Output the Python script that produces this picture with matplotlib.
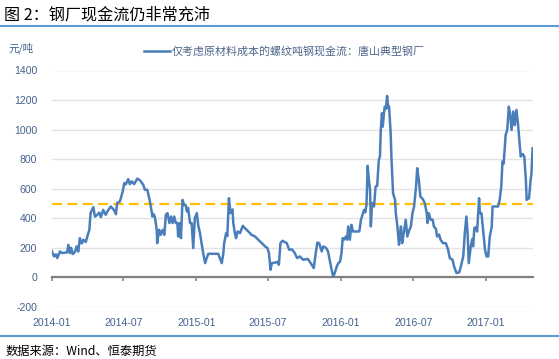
import matplotlib
matplotlib.use("Agg")
import matplotlib.pyplot as plt
import matplotlib.dates as mdates
from matplotlib.lines import Line2D
import datetime as dt

plt.rcParams['font.family'] = ['Liberation Sans', 'Noto Sans CJK SC', 'DejaVu Sans']

title = "图 2：钢厂现金流仍非常充沛"
unit_label = "元/吨"
series_name = "仅考虑原材料成本的螺纹吨钢现金流：唐山典型钢厂"
source = "数据来源：Wind、恒泰期货"
threshold = 500

dates = [
    "2014-01-01", "2014-01-07", "2014-01-12", "2014-01-15", "2014-01-22", "2014-01-27",
    "2014-02-09", "2014-02-12", "2014-02-16", "2014-02-19", "2014-02-23", "2014-03-01",
    "2014-03-05", "2014-03-09", "2014-03-13", "2014-03-18", "2014-03-22", "2014-03-28",
    "2014-04-02", "2014-04-06", "2014-04-09", "2014-04-16", "2014-04-20", "2014-04-26",
    "2014-05-01", "2014-05-05", "2014-05-11", "2014-05-17", "2014-05-24", "2014-05-30",
    "2014-06-07", "2014-06-12", "2014-06-15", "2014-06-22", "2014-06-29", "2014-07-03",
    "2014-07-07", "2014-07-13", "2014-07-17", "2014-07-22", "2014-07-28", "2014-08-05",
    "2014-08-12", "2014-08-20", "2014-08-24", "2014-08-30", "2014-09-04", "2014-09-08",
    "2014-09-12", "2014-09-14", "2014-09-18", "2014-09-23", "2014-09-24", "2014-09-29",
    "2014-10-03", "2014-10-08", "2014-10-12", "2014-10-16", "2014-10-20", "2014-10-25",
    "2014-10-29", "2014-11-02", "2014-11-06", "2014-11-10", "2014-11-14", "2014-11-16",
    "2014-11-20", "2014-11-23", "2014-11-27", "2014-12-01", "2014-12-05", "2014-12-08",
    "2014-12-11", "2014-12-16", "2014-12-20", "2014-12-24", "2014-12-28", "2015-01-02",
    "2015-01-06", "2015-01-10", "2015-01-14", "2015-01-18", "2015-01-23", "2015-01-27",
    "2015-01-31", "2015-02-12", "2015-02-25", "2015-03-01", "2015-03-06", "2015-03-10",
    "2015-03-12", "2015-03-17", "2015-03-20", "2015-03-24", "2015-03-28", "2015-04-02",
    "2015-04-04", "2015-04-08", "2015-04-11", "2015-04-15", "2015-04-21", "2015-04-28",
    "2015-05-03", "2015-05-12", "2015-05-20", "2015-05-29", "2015-06-06", "2015-06-15",
    "2015-06-23", "2015-06-29", "2015-07-03", "2015-07-07", "2015-07-10", "2015-07-18",
    "2015-07-24", "2015-07-28", "2015-08-01", "2015-08-06", "2015-08-17", "2015-08-23",
    "2015-08-30", "2015-09-06", "2015-09-12", "2015-09-19", "2015-09-27", "2015-10-09",
    "2015-10-19", "2015-10-24", "2015-10-29", "2015-11-02", "2015-11-07", "2015-11-13",
    "2015-11-17", "2015-11-24", "2015-11-29", "2015-12-04", "2015-12-08", "2015-12-12",
    "2015-12-16", "2015-12-21", "2015-12-25", "2015-12-29", "2016-01-02", "2016-01-05",
    "2016-01-08", "2016-01-13", "2016-01-16", "2016-01-19", "2016-01-23", "2016-01-27",
    "2016-01-31", "2016-02-16", "2016-02-20", "2016-02-24", "2016-02-28", "2016-03-02",
    "2016-03-05", "2016-03-08", "2016-03-11", "2016-03-14", "2016-03-16", "2016-03-19",
    "2016-03-24", "2016-03-28", "2016-04-01", "2016-04-05", "2016-04-08", "2016-04-10",
    "2016-04-13", "2016-04-15", "2016-04-18", "2016-04-20", "2016-04-23", "2016-04-26",
    "2016-04-29", "2016-05-01", "2016-05-05", "2016-05-07", "2016-05-11", "2016-05-16",
    "2016-05-18", "2016-05-22", "2016-05-26", "2016-05-28", "2016-05-31", "2016-06-03",
    "2016-06-07", "2016-06-12", "2016-06-16", "2016-06-21", "2016-06-25", "2016-06-29",
    "2016-07-03", "2016-07-08", "2016-07-11", "2016-07-15", "2016-07-19", "2016-07-25",
    "2016-07-30", "2016-08-04", "2016-08-06", "2016-08-09", "2016-08-14", "2016-08-19",
    "2016-08-22", "2016-08-27", "2016-08-30", "2016-09-04", "2016-09-08", "2016-09-14",
    "2016-09-21", "2016-09-27", "2016-10-01", "2016-10-08", "2016-10-12", "2016-10-18",
    "2016-10-25", "2016-10-29", "2016-11-04", "2016-11-08", "2016-11-12", "2016-11-15",
    "2016-11-18", "2016-11-23", "2016-11-27", "2016-11-29", "2016-12-02", "2016-12-06",
    "2016-12-09", "2016-12-14", "2016-12-16", "2016-12-20", "2016-12-24", "2016-12-29",
    "2017-01-02", "2017-01-06", "2017-01-10", "2017-01-15", "2017-01-17", "2017-01-31",
    "2017-02-04", "2017-02-08", "2017-02-11", "2017-02-14", "2017-02-19", "2017-02-23",
    "2017-02-27", "2017-03-02", "2017-03-06", "2017-03-10", "2017-03-14", "2017-03-18",
    "2017-03-22", "2017-03-27", "2017-03-29", "2017-04-03", "2017-04-07", "2017-04-11",
    "2017-04-13", "2017-04-19", "2017-04-23", "2017-04-25", "2017-04-28",
]

values = [
    180, 142, 156, 131, 176, 165,
    170, 221, 165, 200, 158, 175,
    210, 175, 266, 230, 255, 240,
    288, 322, 435, 476, 412, 424,
    439, 408, 457, 424, 457, 480,
    457, 428, 503, 514, 581, 638,
    630, 665, 631, 650, 631, 669,
    656, 626, 593, 593, 536, 480,
    412, 430, 412, 322, 232, 322,
    288, 322, 288, 424, 435, 368,
    412, 368, 412, 368, 368, 277,
    368, 266, 525, 490, 490, 446,
    470, 368, 368, 199, 401, 435,
    345, 300, 232, 165, 97, 131,
    160, 160, 160, 131, 97, 165,
    232, 300, 280, 536, 435, 460,
    368, 300, 266, 311, 300, 349,
    334, 311, 288, 277, 255, 232,
    210, 200, 165, 52, 97, 100,
    105, 86, 232, 248, 232, 187,
    190, 165, 131, 142, 120, 125,
    86, 63, 165, 236, 230, 176,
    210, 200, 176, 108, 52, 7,
    30, 74, 97, 105, 165, 266,
    255, 277, 255, 345, 255, 356,
    311, 311, 390, 424, 457, 440,
    491, 755, 660, 593, 345, 503,
    480, 615, 620, 795, 818, 998,
    1111, 1020, 1110, 1155, 1140, 1228,
    1145, 1155, 976, 807, 570, 525,
    435, 345, 221, 280, 345, 232,
    300, 390, 277, 320, 345, 435,
    480, 615, 739, 660, 547, 530,
    503, 435, 368, 435, 390, 390,
    345, 330, 277, 290, 255, 232,
    232, 187, 131, 120, 74, 30,
    35, 74, 142, 300, 412, 300,
    97, 210, 260, 210, 334, 340,
    311, 536, 435, 435, 322, 187,
    142, 142, 277, 345, 480, 480,
    525, 615, 784, 770, 964, 998,
    1155, 1110, 998, 1122, 1030, 1133,
    1043, 885, 818, 835, 818, 660,
    525, 536, 660, 700, 874,
]

tick_dates = ["2014-01", "2014-07", "2015-01", "2015-07", "2016-01", "2016-07", "2017-01"]
y_ticks = [-200, 0, 200, 400, 600, 800, 1000, 1200, 1400]

x = mdates.date2num([dt.datetime.strptime(d, "%Y-%m-%d") for d in dates])
xt = mdates.date2num([dt.datetime.strptime(d + "-01", "%Y-%m-%d") for d in tick_dates])
x_end = mdates.date2num(dt.datetime(2017, 4, 29))

W, H = 559, 359
fig = plt.figure(figsize=(W / 100, H / 100), dpi=100)
ax = fig.add_axes([51.7 / W, 1 - 307 / H, (533 - 51.7) / W, (307 - 70.5) / H])

label_color = "#44618f"
ax.set_ylim(-200, 1400)
ax.set_xlim(xt[0], x_end)
ax.set_yticks(y_ticks)
ax.set_yticklabels([str(v) for v in y_ticks], color=label_color, fontsize=7.6)
ax.tick_params(axis='y', length=0, pad=10.5)
ax.grid(axis='y', color='#e3e3e3', linewidth=1.0)
ax.set_axisbelow(True)
for s in ['top', 'right', 'left']:
    ax.spines[s].set_visible(False)
ax.spines['bottom'].set_position(('data', 0))
ax.spines['bottom'].set_color('#808080')
ax.spines['bottom'].set_linewidth(1.6)
ax.set_xticks(xt)
ax.tick_params(axis='x', direction='out', length=3, width=1.2, color='#808080', labelbottom=False)

sec = ax.secondary_xaxis('bottom')
sec.set_xticks(xt)
sec.set_xticklabels(tick_dates, color=label_color, fontsize=7.6)
sec.tick_params(length=0, pad=8)
sec.spines['bottom'].set_visible(False)

ax.axhline(threshold, color='#FFC000', linewidth=1.6, dashes=(4.5, 2.4), zorder=2)
line, = ax.plot(x, values, color='#4a7ebb', linewidth=1.8, zorder=3, label=series_name)

leg = ax.legend(handles=[line], loc='lower left', bbox_to_anchor=(139 / W, 1 - 62 / H),
                bbox_transform=fig.transFigure, frameon=False, handlelength=2.3,
                handletextpad=0.2, borderpad=0, prop={'family': ['Noto Sans CJK SC'], 'size': 7.9})
for t in leg.get_texts():
    t.set_color('#4d6589')

fig.text(8 / W, 1 - 48 / H, unit_label, fontsize=7.6, color=label_color, va='center', ha='left',
         family=['Noto Sans CJK SC'])
fig.text(4 / W, 1 - 15 / H, title, fontsize=11.6, color='black', va='center', ha='left',
         family=['Noto Sans CJK SC'], fontweight='medium')
fig.text(6 / W, 1 - 351 / H, source, fontsize=8.8, color='black', va='center', ha='left',
         family=['Noto Sans CJK SC'])

fig.add_artist(Line2D([0, 1], [1 - 26 / H, 1 - 26 / H], transform=fig.transFigure,
                      color='#5b9bd5', linewidth=1.5))
fig.add_artist(Line2D([0, 1], [1 - 336 / H, 1 - 336 / H], transform=fig.transFigure,
                      color='#5b9bd5', linewidth=1.5))

fig.savefig("out.png", dpi=100)
